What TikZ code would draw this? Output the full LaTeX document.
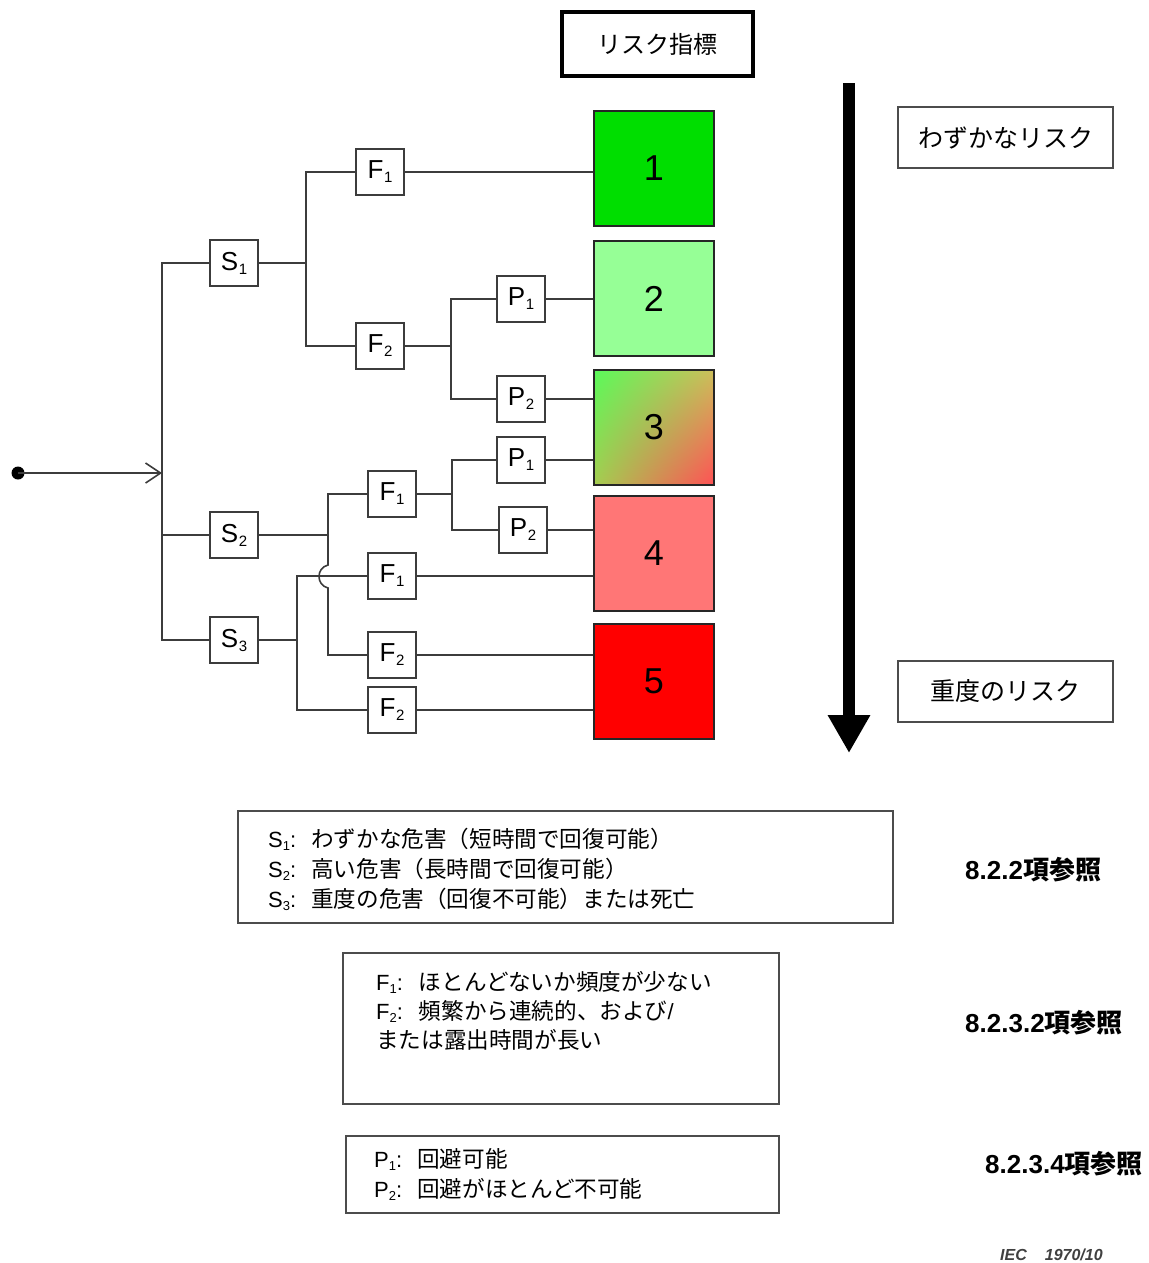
\documentclass[tikz,border=0pt]{standalone}
\usepackage{fontspec}
\setmainfont{Liberation Sans}
\newfontfamily\jp{Noto Sans CJK JP}
\usetikzlibrary{arrows.meta,shadings}
\newcommand\nsub[2]{#1\kern0.5pt\raisebox{-4pt}{\fontsize{15}{15}\selectfont #2}}
\newcommand\lsub[2]{#1\raisebox{-3pt}{\fontsize{13}{13}\selectfont #2}:}
\newcommand\jt[1]{{\jp\fontsize{22.6}{26}\selectfont #1}}
\definecolor{gA}{RGB}{0,222,0}
\definecolor{gB}{RGB}{150,255,150}
\definecolor{rD}{RGB}{255,118,118}
\definecolor{rE}{RGB}{255,0,0}
\definecolor{lnc}{RGB}{60,60,60}
\definecolor{cUL}{RGB}{90,250,90}
\definecolor{cUR}{RGB}{205,190,90}
\definecolor{cLL}{RGB}{165,205,80}
\definecolor{cLR}{RGB}{255,80,85}
\begin{document}
\begin{tikzpicture}[x=1pt,y=-1pt,
 tl/.style={line width=1.6pt, draw=lnc},
 tbox/.style={draw=lnc, line width=1.8pt, fill=white, minimum width=48pt, minimum height=46pt, inner sep=0pt, font=\fontsize{26}{26}\selectfont},
 rbox/.style={draw=black!85, line width=1.6pt, minimum width=120pt, minimum height=115pt, inner sep=0pt, font=\fontsize{36}{36}\selectfont},
 sidebox/.style={draw=black!70, line width=2pt, minimum width=215pt, minimum height=61pt, inner sep=0pt, font=\jp\fontsize{25}{25}\selectfont},
 legbox/.style={draw=black!70, line width=2pt, anchor=north west, inner sep=0pt},
 legtxt/.style={anchor=base west, inner sep=0pt, font=\fontsize{22}{26}\selectfont},
 reftxt/.style={anchor=base west, inner sep=0pt, font=\bfseries\fontsize{26}{26}\selectfont},
]
\useasboundingbox (0,0) rectangle (1148,1263);

% title and side labels
\node[draw, line width=4pt, minimum width=191pt, minimum height=64pt, inner sep=0pt, font=\jp\fontsize{24}{24}\selectfont] (title) at (657.5,44) {リスク指標};
\node[sidebox] (low) at (1005.5,137.5) {わずかなリスク};
\node[sidebox] (high) at (1005.5,691) {重度のリスク};

% big arrow
\coordinate (atop) at (849,83);
\coordinate (abot) at (849,753);
\draw[line width=12pt, -{Triangle[length=38pt,width=40pt]}] (atop) -- (abot);

% tree nodes
\node[tbox] (S1) at (234,263) {\nsub{S}{1}};
\node[tbox] (S2) at (234,535) {\nsub{S}{2}};
\node[tbox] (S3) at (234,640) {\nsub{S}{3}};
\node[tbox] (F1a) at (380,172) {\nsub{F}{1}};
\node[tbox] (F2a) at (380,346) {\nsub{F}{2}};
\node[tbox] (P1a) at (521,299) {\nsub{P}{1}};
\node[tbox] (P2a) at (521,399) {\nsub{P}{2}};
\node[tbox] (F1b) at (392,494) {\nsub{F}{1}};
\node[tbox] (P1b) at (521,460) {\nsub{P}{1}};
\node[tbox] (P2b) at (523,530) {\nsub{P}{2}};
\node[tbox] (F1c) at (392,576) {\nsub{F}{1}};
\node[tbox] (F2b) at (392,655) {\nsub{F}{2}};
\node[tbox] (F2c) at (392,710) {\nsub{F}{2}};

% risk boxes
\node[rbox, fill=gA] (R1) at (654,168.5) {1};
\node[rbox, fill=gB] (R2) at (654,298.5) {2};
\node[rbox, upper left=cUL, upper right=cUR, lower left=cLL, lower right=cLR] (R3) at (654,427.5) {3};
\node[rbox, fill=rD] (R4) at (654,553.5) {4};
\node[rbox, fill=rE] (R5) at (654,681.5) {5};

% start and trunk
\coordinate (start) at (18,473);
\coordinate (trunk) at (162,473);
\fill[black] (start) circle (6.5);
\draw[tl, -{Straight Barb[length=15pt,width=20pt]}] (start) -- (trunk);
\draw[tl] (S1.west) -| (trunk) |- (S3.west);
\draw[tl] (S2.west) -- (S2.west -| trunk);

% S1 branch
\coordinate (b1) at (306,263);
\draw[tl] (S1.east) -- (b1);
\draw[tl] (F1a.west) -| (b1) |- (F2a.west);
\draw[tl] (F1a.east) -- (F1a.east -| R1.west);
\coordinate (c1) at (451,346);
\draw[tl] (F2a.east) -- (c1);
\draw[tl] (P1a.west) -| (c1) |- (P2a.west);
\draw[tl] (P1a.east) -- (P1a.east -| R2.west);
\draw[tl] (P2a.east) -- (P2a.east -| R3.west);

% S2 branch
\coordinate (b2) at (328,535);
\coordinate (hopT) at (328,565);
\coordinate (hopB) at (328,588);
\draw[tl] (S2.east) -- (b2);
\draw[tl] (F1b.west) -| (hopT) .. controls (316,568) and (316,585) .. (hopB) |- (F2b.west);
\coordinate (c2) at (452,494);
\draw[tl] (F1b.east) -- (c2);
\draw[tl] (P1b.west) -| (c2) |- (P2b.west);
\draw[tl] (P1b.east) -- (P1b.east -| R3.west);
\draw[tl] (P2b.east) -- (P2b.east -| R4.west);
\draw[tl] (F2b.east) -- (F2b.east -| R5.west);

% S3 branch
\coordinate (b3) at (297,640);
\draw[tl] (S3.east) -- (b3);
\draw[tl] (F1c.west) -| (b3) |- (F2c.west);
\draw[tl] (F1c.east) -- (F1c.east -| R4.west);
\draw[tl] (F2c.east) -- (F2c.east -| R5.west);

% legend boxes
\node[legbox, minimum width=655pt, minimum height=112pt] (LS) at (237,810) {};
\node[legtxt] (s1t) at (268,847) {\lsub{S}{1}\hspace{15pt}\jt{わずかな危害（短時間で回復可能）}};
\node[legtxt] (s2t) at (268,877) {\lsub{S}{2}\hspace{15pt}\jt{高い危害（長時間で回復可能）}};
\node[legtxt] (s3t) at (268,907) {\lsub{S}{3}\hspace{15pt}\jt{重度の危害（回復不可能）または死亡}};

\node[legbox, minimum width=436pt, minimum height=151pt] (LF) at (342,952) {};
\node[legtxt] (f1t) at (376,990) {\lsub{F}{1}\hspace{16pt}\jt{ほとんどないか頻度が少ない}};
\node[legtxt] (f2t) at (376,1019) {\lsub{F}{2}\hspace{16pt}\jt{頻繁から連続的、および}/};
\node[legtxt] (f3t) at (376,1048) {\jt{または露出時間が長い}};

\node[legbox, minimum width=433pt, minimum height=77pt] (LP) at (345,1135) {};
\node[legtxt] (p1t) at (374,1167) {\lsub{P}{1}\hspace{15pt}\jt{回避可能}};
\node[legtxt] (p2t) at (374,1197) {\lsub{P}{2}\hspace{15pt}\jt{回避がほとんど不可能}};

% references
\node[reftxt] (ref1) at (965,879) {8.2.2{\jp\bfseries 項参照}};
\node[reftxt] (ref2) at (965,1032) {8.2.3.2{\jp\bfseries 項参照}};
\node[reftxt] (ref3) at (985,1173) {8.2.3.4{\jp\bfseries 項参照}};
\node[anchor=base west, inner sep=0pt, text=black!75, font=\bfseries\itshape\fontsize{16}{16}\selectfont] (iec) at (1000,1260) {IEC\hspace{18pt}1970/10};
\end{tikzpicture}
\end{document}
